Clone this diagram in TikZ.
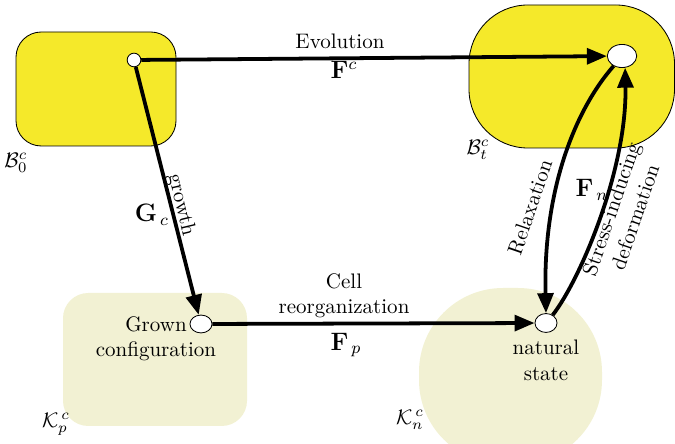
\documentclass[tikz,border=0pt]{standalone}
\usepackage{amsmath,amssymb}
\usetikzlibrary{arrows.meta,calc,positioning,shapes.geometric}
\definecolor{bodyyellow}{RGB}{245,233,42}
\definecolor{natolive}{RGB}{242,241,211}

\begin{document}
\begin{tikzpicture}[x=0.476pt,y=-0.476pt,
  spot/.style={ellipse,draw,fill=white,inner sep=0pt,line width=0.4pt},
  map/.style={line width=1.8pt,-{Triangle[length=9.5pt,width=7.5pt]}}]
  \useasboundingbox (0,0) rectangle (675,444);
  \clip (0,0) rectangle (675,444);
  % configurations
  \draw[fill=bodyyellow,rounded corners=12pt] (16,32) rectangle (176,146);
  \draw[fill=bodyyellow,rounded corners=28pt] (469,5) rectangle (674.5,148);
  \fill[natolive,rounded corners=12pt] (63,293) rectangle (247,426);
  \fill[natolive,rounded corners=40pt] (419,288) rectangle (602,464);
  \node (B0) at (16,163) {$\mathcal{B}_0^c$};
  \node (Bt) at (478,150) {$\mathcal{B}_t^c$};
  \node (Kp) at (56,424) {$\mathcal{K}_p^{\,c}$};
  \node (Kn) at (410,420) {$\mathcal{K}_n^{\,c}$};
  % material points
  \node[spot,minimum width=6.5pt,minimum height=6.5pt] (P0) at (134,60) {};
  \node[spot,minimum width=14pt,minimum height=11pt] (Pt) at (622,56) {};
  \node[spot,minimum width=10.5pt,minimum height=8.5pt] (Pg) at (201,324) {};
  \node[spot,minimum width=10.5pt,minimum height=9pt] (Pn) at (546,323) {};
  \node[align=center] (grown) at (156,339) {Grown\\configuration};
  \node[align=center,below=0pt of Pn] (natural) {natural\\state};
  % maps
  \draw[map] (P0) -- (Pt);
  \node (evo) at (340,41) {Evolution};
  \node (Fc) at (344,70) {\large$\mathbf{F}^c$};
  \draw[map] (P0) -- (Pg);
  \node[rotate=-76.6] (growth) at (181,205) {growth};
  \node (Gc) at (152,215) {\large$\mathbf{G}_{\,c}$};
  \draw[map] (Pg) -- (Pn);
  \node[align=center] (reorg) at (344,296) {Cell\\reorganization};
  \node (Fp) at (346,345) {\large$\mathbf{F}_{\,p}$};
  \draw[map] (Pt.230) .. controls (575,110) and (543,190) .. (Pn.north);
  \draw[map] (Pn.50) .. controls (580,280) and (627,170) .. (Pt.-75);
  \node[rotate=71] (relax) at (530,207) {Relaxation};
  \node[rotate=71,align=center] (stress) at (623,213) {Stress-inducing\\deformation};
  \node (Fn) at (592,190) {\large$\mathbf{F}_{\,n}$};
\end{tikzpicture}
\end{document}
